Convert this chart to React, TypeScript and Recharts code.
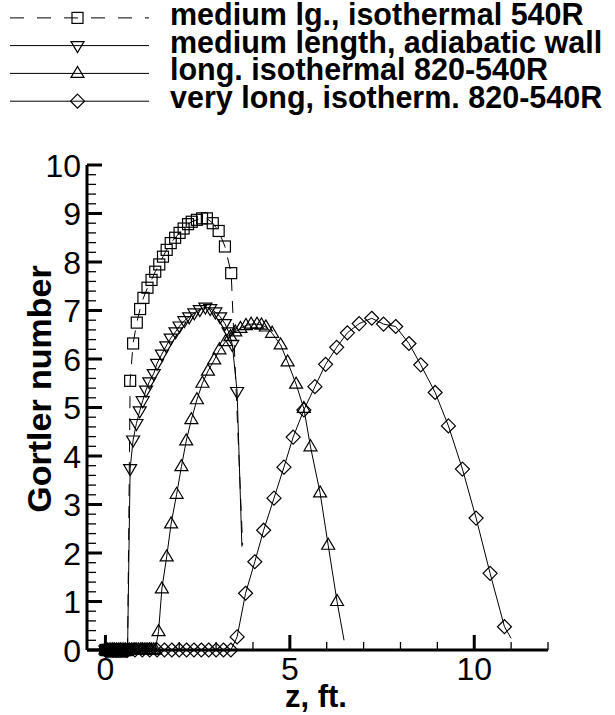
import { ComposedChart, Line, XAxis, YAxis, Legend } from 'recharts';

const FONT = '"Liberation Sans", Arial, Helvetica, sans-serif';

// medium lg., isothermal 540R  (squares, dashed)
const medIsoZ = [
  0, 0.025, 0.05, 0.075, 0.1, 0.125, 0.15, 0.175, 0.2, 0.225, 0.25, 0.275, 0.3,
  0.325, 0.35, 0.375, 0.4, 0.425, 0.45, 0.475, 0.5, 0.525, 0.55, 0.575, 0.6,
  0.67, 0.75, 0.85, 0.94, 1.03, 1.14, 1.25, 1.35, 1.46, 1.56, 1.66, 1.77,
  1.89, 2.01, 2.12, 2.24, 2.34, 2.48, 2.62, 2.75, 2.91, 3.07, 3.24, 3.41,
];
const medIsoG = [
  0, 0, 0, 0, 0, 0, 0, 0, 0, 0, 0, 0, 0,
  0, 0, 0, 0, 0, 0, 0, 0, 0, 0, 0, 0,
  5.55, 6.32, 6.75, 7.03, 7.26, 7.47, 7.63, 7.8, 7.95, 8.11, 8.25, 8.39,
  8.5, 8.6, 8.69, 8.78, 8.83, 8.87, 8.9, 8.9, 8.8, 8.64, 8.32, 7.77,
];
const medIsoTail = [3.72, 2.16];

// medium length, adiabatic wall  (down triangles)
const medAdiZ = [
  0, 0.025, 0.05, 0.075, 0.1, 0.125, 0.15, 0.175, 0.2, 0.225, 0.25, 0.275, 0.3,
  0.325, 0.35, 0.375, 0.4, 0.425, 0.45, 0.475, 0.5, 0.525, 0.55, 0.575, 0.6,
  0.67, 0.75, 0.84, 0.93, 1.01, 1.1, 1.19, 1.31, 1.4, 1.53, 1.65, 1.77,
  1.9, 2.01, 2.14, 2.27, 2.41, 2.56, 2.71, 2.84, 2.98, 3.11, 3.24, 3.34,
  3.44, 3.57,
];
const medAdiG = [
  0, 0, 0, 0, 0, 0, 0, 0, 0, 0, 0, 0, 0,
  0, 0, 0, 0, 0, 0, 0, 0, 0, 0, 0, 0,
  3.74, 4.33, 4.67, 4.93, 5.14, 5.36, 5.53, 5.7, 5.91, 6.1, 6.27, 6.43,
  6.56, 6.68, 6.79, 6.87, 6.95, 7.02, 7.07, 7.04, 6.97, 6.87, 6.73, 6.56,
  6.3, 5.33,
];
const medAdiTail = [3.7, 2.13];

// long. isothermal 820-540R  (up triangles)
const longIsoZ = [
  0, 0.05, 0.1, 0.15, 0.2, 0.25, 0.3, 0.35, 0.4, 0.45, 0.5, 0.55, 0.6, 0.65,
  0.7, 0.75, 0.8, 0.85, 0.9, 0.95, 1.0, 1.05, 1.1, 1.15, 1.2, 1.25, 1.3, 1.35,
  1.44, 1.53, 1.66, 1.78, 1.93, 2.06, 2.19, 2.33, 2.48, 2.63, 2.78, 2.95,
  3.09, 3.26, 3.39, 3.52, 3.66, 3.81, 3.95, 4.11, 4.23, 4.35, 4.52, 4.75,
  4.94, 5.17, 5.38, 5.56, 5.82, 6.04, 6.28,
];
const longIsoG = [
  0, 0, 0, 0, 0, 0, 0, 0, 0, 0, 0, 0, 0, 0,
  0, 0, 0, 0, 0, 0, 0, 0, 0, 0, 0, 0, 0, 0,
  0.38, 1.26, 1.92, 2.6, 3.21, 3.78, 4.31, 4.75, 5.16, 5.5, 5.75, 5.98,
  6.19, 6.36, 6.46, 6.56, 6.63, 6.69, 6.72, 6.72, 6.7, 6.66, 6.53, 6.29,
  5.94, 5.48, 4.98, 4.19, 3.24, 2.16, 1.0,
];
const longIsoTail = [6.47, 0.2];

// very long, isotherm. 820-540R  (diamonds)
const vlongZ = [
  0, 0.2, 0.4, 0.6, 0.8, 1.0, 1.2, 1.4, 1.6, 1.8, 2.0, 2.2, 2.4, 2.6, 2.8,
  3.0, 3.2, 3.4,
  3.57, 3.8, 4.05, 4.29, 4.57, 4.84, 5.09, 5.38, 5.68, 5.97, 6.27, 6.56,
  6.88, 7.22, 7.54, 7.87, 8.23, 8.55, 8.94, 9.3, 9.68, 10.05, 10.43, 10.82,
];
const vlongG = [
  0, 0, 0, 0, 0, 0, 0, 0, 0, 0, 0, 0, 0, 0, 0, 0, 0, 0,
  0.27, 1.17, 1.82, 2.47, 3.13, 3.77, 4.39, 4.95, 5.43, 5.89, 6.24, 6.54,
  6.73, 6.84, 6.72, 6.67, 6.32, 5.88, 5.31, 4.62, 3.73, 2.72, 1.58, 0.48,
];
const vlongTail = [11.0, 0.24];

const seriesNames = [
  'medium lg., isothermal 540R',
  'medium length, adiabatic wall',
  'long. isothermal 820-540R',
  'very long, isotherm. 820-540R',
];

const xTicks = [0, 1, 2, 3, 4, 5, 6, 7, 8, 9, 10, 11, 12];
const xLabelTicks = [0, 5, 10];
const yLabelTicks = [0, 1, 2, 3, 4, 5, 6, 7, 8, 9, 10];
const yTicks = Array.from({ length: 51 }, (_, i) => i / 5);

type Pt = { z: number; g: number; marked: boolean };
type Marker = 'square' | 'down' | 'up' | 'diamond';

const build = (zs: number[], gs: number[], tail: number[]): Pt[] => [
  ...zs.map((z, i) => ({ z, g: gs[i], marked: true })),
  { z: tail[0], g: tail[1], marked: false },
];

const drawMarker = (kind: Marker, cx: number, cy: number, key: string) => {
  const common = { fill: 'none', stroke: '#000', strokeWidth: 1.2 };
  switch (kind) {
    case 'square':
      return <rect key={key} x={cx - 5.5} y={cy - 5.5} width={11} height={11} {...common} />;
    case 'down':
      return <polygon key={key} points={`${cx - 6.5},${cy - 4} ${cx + 6.5},${cy - 4} ${cx},${cy + 7}`} {...common} />;
    case 'up':
      return <polygon key={key} points={`${cx - 6.5},${cy + 4} ${cx + 6.5},${cy + 4} ${cx},${cy - 7}`} {...common} />;
    default:
      return <polygon key={key} points={`${cx},${cy - 7} ${cx + 7},${cy} ${cx},${cy + 7} ${cx - 7},${cy}`} {...common} />;
  }
};

const makeDot = (kind: Marker) => (props: any) => {
  const { cx, cy, payload, index } = props;
  if (!payload.marked || cx == null || cy == null) return <g key={`n${index}`} />;
  return drawMarker(kind, cx, cy, `${kind}${index}`);
};

const series: { name: string; data: Pt[]; marker: Marker; dash?: string }[] = [
  { name: seriesNames[0], data: build(medIsoZ, medIsoG, medIsoTail), marker: 'square', dash: '12 10' },
  { name: seriesNames[1], data: build(medAdiZ, medAdiG, medAdiTail), marker: 'down' },
  { name: seriesNames[2], data: build(longIsoZ, longIsoG, longIsoTail), marker: 'up' },
  { name: seriesNames[3], data: build(vlongZ, vlongG, vlongTail), marker: 'diamond' },
];

const legendRowY = [17.9, 45.6, 73.4, 101.2];

const renderLegend = () => (
  <svg width={615} height={118} style={{ display: 'block' }}>
    {series.map((s, i) => {
      const y = legendRowY[i];
      return (
        <g key={s.name}>
          <line x1={10} x2={149} y1={y} y2={y} stroke="#000" strokeWidth={1} strokeDasharray={s.dash ? '14 13' : undefined} />
          {drawMarker(s.marker, 77.5, y, `lm${i}`)}
          <text x={170} y={y + 7} fontSize={30.5} fontWeight="bold" fontFamily={FONT} fill="#000">
            {s.name}
          </text>
        </g>
      );
    })}
  </svg>
);

const XTick = (props: any) => {
  const { x, y, payload } = props;
  const major = xLabelTicks.includes(payload.value);
  return (
    <g>
      <line x1={x} x2={x} y1={y} y2={y - (major ? 15 : 8)} stroke="#000" strokeWidth={major ? 3 : 1.3} />
      {major && (
        <text x={x} y={y + 30} textAnchor="middle" fontSize={32} fontFamily={FONT} fill="#000">
          {payload.value}
        </text>
      )}
    </g>
  );
};

const YTick = (props: any) => {
  const { x, y, payload } = props;
  const major = yLabelTicks.some((v) => Math.abs(v - payload.value) < 1e-6);
  return (
    <g>
      <line x1={x} x2={x + (major ? 15 : 9)} y1={y} y2={y} stroke="#000" strokeWidth={major ? 3 : 1.3} />
      {major && (
        <text x={x - 6} y={y + 11.5} textAnchor="end" fontSize={32} fontFamily={FONT} fill="#000">
          {Math.round(payload.value)}
        </text>
      )}
    </g>
  );
};

const renderXLabel = () => (
  <text x={316} y={707} textAnchor="middle" fontSize={31} fontWeight="bold" fontFamily={FONT} fill="#000">
    z, ft.
  </text>
);

const renderYLabel = () => (
  <text
    x={51}
    y={389}
    textAnchor="middle"
    fontSize={34}
    fontWeight="bold"
    fontFamily={FONT}
    fill="#000"
    transform="rotate(-90 51 389)"
  >
    Gortler number
  </text>
);

export default function App() {
  return (
    <div style={{ position: 'absolute', left: 0, top: 0, background: '#fff' }}>
      <ComposedChart width={615} height={715} margin={{ top: 165, right: 67, bottom: 0, left: 0 }}>
        <XAxis
          type="number"
          dataKey="z"
          domain={[-0.5, 12]}
          ticks={xTicks}
          interval={0}
          tick={<XTick />}
          tickSize={0}
          tickMargin={0}
          tickLine={false}
          axisLine={{ stroke: '#000', strokeWidth: 3 }}
          height={65}
          allowDataOverflow
          label={renderXLabel}
        />
        <YAxis
          type="number"
          dataKey="g"
          domain={[0, 10]}
          ticks={yTicks}
          interval={0}
          tick={<YTick />}
          tickSize={0}
          tickMargin={0}
          tickLine={false}
          axisLine={{ stroke: '#000', strokeWidth: 3 }}
          width={87}
          label={renderYLabel}
        />
        <Legend
          layout="vertical"
          align="center"
          verticalAlign="middle"
          wrapperStyle={{ position: 'absolute', top: 0, left: 0, width: 615, height: 118 }}
          content={renderLegend}
        />
        {series.map((s) => (
          <Line
            key={s.name}
            name={s.name}
            data={s.data}
            dataKey="g"
            type="linear"
            stroke="#000"
            strokeWidth={1}
            strokeDasharray={s.dash}
            dot={makeDot(s.marker)}
            activeDot={false}
            isAnimationActive={false}
          />
        ))}
      </ComposedChart>
    </div>
  );
}
